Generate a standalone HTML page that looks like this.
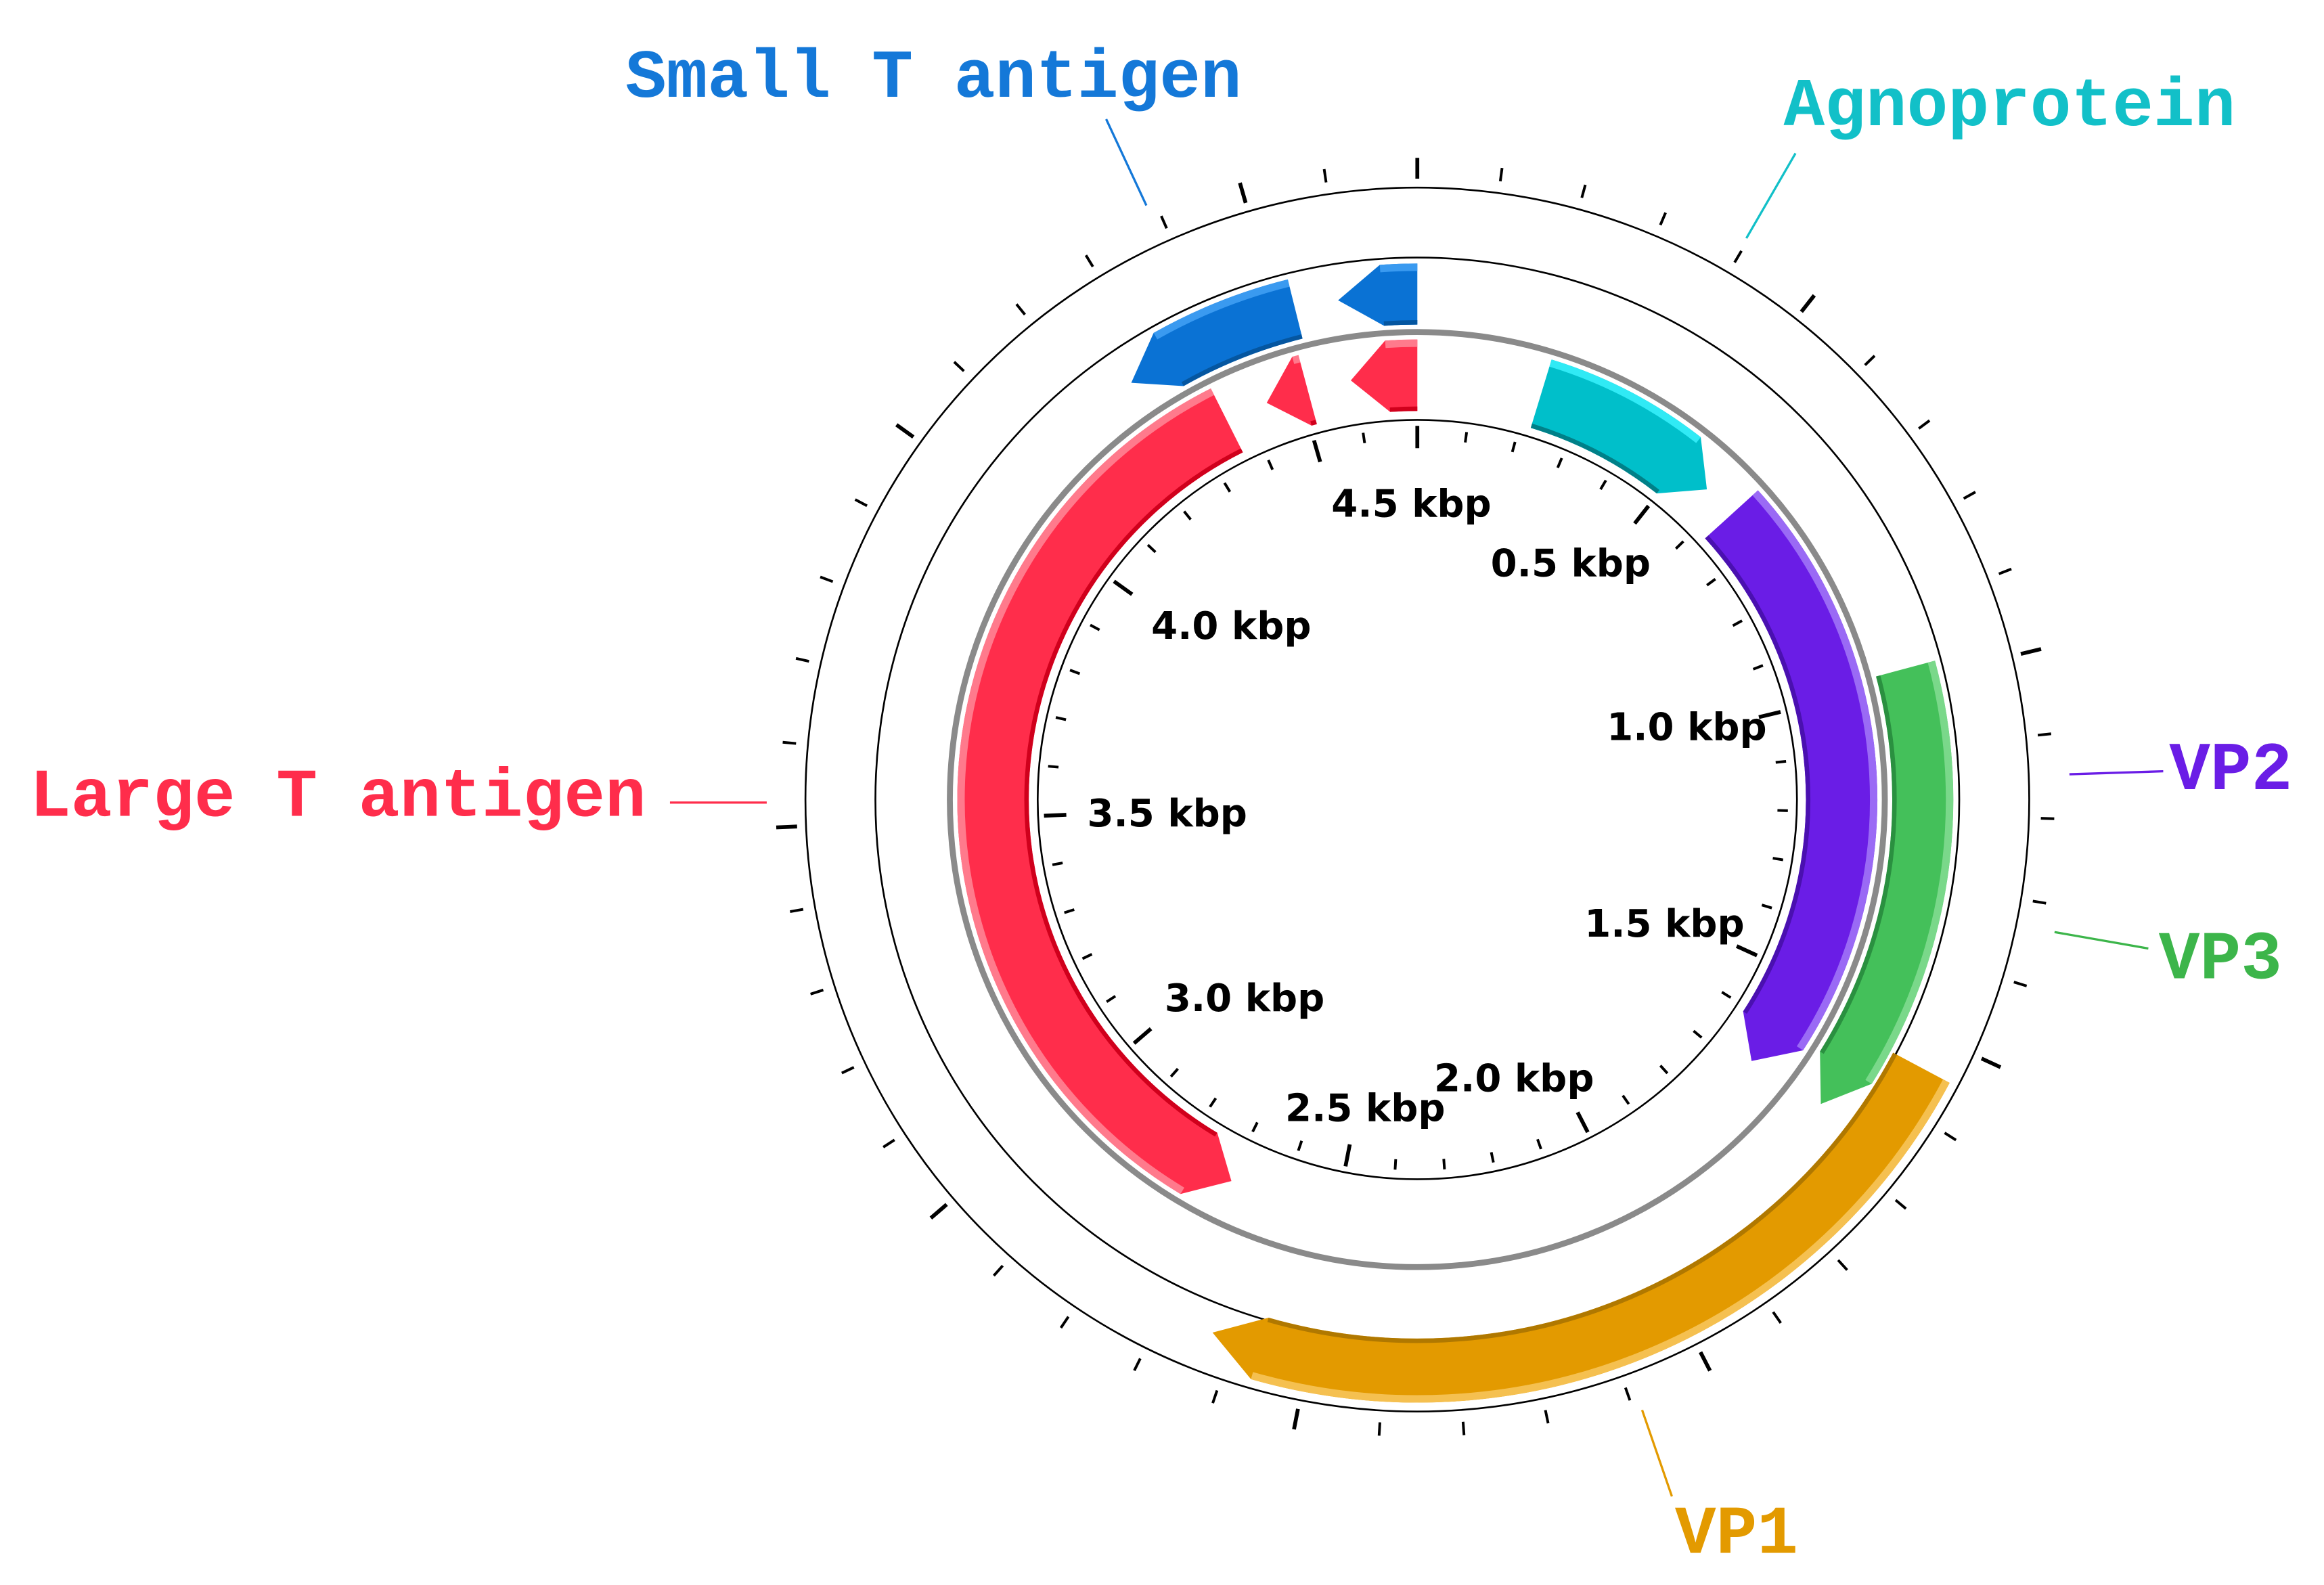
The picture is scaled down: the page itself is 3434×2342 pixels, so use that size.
<!DOCTYPE html>
<html><head><meta charset="utf-8"><style>
html,body{margin:0;padding:0;background:#fff;}
svg{display:block;}
.mono{font-family:"Liberation Mono",monospace;font-weight:bold;font-size:46px;}
.kbp{font-family:"DejaVu Sans","Liberation Sans",sans-serif;font-weight:bold;font-size:25.5px;fill:#000;text-anchor:middle;}
</style></head><body>
<svg id="map" width="3434" height="2342" viewBox="0 0 1561 1064.5" preserveAspectRatio="none" xmlns="http://www.w3.org/2000/svg">
<g id="rings">
<circle cx="952" cy="537" r="411" fill="none" stroke="#000" stroke-width="1.2"/>
<circle cx="952" cy="537" r="364" fill="none" stroke="#000" stroke-width="1.2"/>
<circle cx="952" cy="537" r="314" fill="none" stroke="#8a8a8a" stroke-width="4"/>
<circle cx="952" cy="537" r="255" fill="none" stroke="#000" stroke-width="1.2"/>
</g>
<g id="ticks"></g>
<g id="features"></g>
<g>
<text class="kbp" x="948" y="347">4.5 kbp</text>
<text class="kbp" x="1055" y="387">0.5 kbp</text>
<text class="kbp" x="1133" y="497">1.0 kbp</text>
<text class="kbp" x="1118" y="629">1.5 kbp</text>
<text class="kbp" x="1017" y="733">2.0 kbp</text>
<text class="kbp" x="917" y="753">2.5 kbp</text>
<text class="kbp" x="836" y="679">3.0 kbp</text>
<text class="kbp" x="784" y="555">3.5 kbp</text>
<text class="kbp" x="827" y="429">4.0 kbp</text>
</g>
<g>
<text class="mono" x="420" y="65" fill="#1478d8">Small T antigen</text>
<line x1="743" y1="80" x2="770" y2="138" stroke="#1478d8" stroke-width="1.5"/>
<text class="mono" x="1198" y="84" fill="#12c0c8">Agnoprotein</text>
<line x1="1206" y1="103" x2="1173" y2="160" stroke="#12c0c8" stroke-width="1.5"/>
<text class="mono" x="20" y="548" fill="#ff2d4b">Large T antigen</text>
<line x1="450" y1="539" x2="515" y2="539" stroke="#ff2d4b" stroke-width="1.5"/>
<text class="mono" x="1457" y="530" fill="#6a1de6">VP2</text>
<line x1="1390" y1="520" x2="1453" y2="518" stroke="#6a1de6" stroke-width="1.5"/>
<text class="mono" x="1450" y="657" fill="#3cb54a">VP3</text>
<line x1="1380" y1="626" x2="1443" y2="637" stroke="#3cb54a" stroke-width="1.5"/>
<text class="mono" x="1125" y="1043" fill="#e39a00">VP1</text>
<line x1="1103" y1="947" x2="1123" y2="1005" stroke="#e39a00" stroke-width="1.5"/>
</g>
</svg>
<script>
const genomeLength = 4710;
const tickStep = 100;
const featureNames = ["small-t-1","small-t-2","large-t-1","large-t-2","large-t-3","agnoprotein","vp2","vp3","vp1"];
const featureStarts = [4592, 4259, 4592, 4438, 2695, 222, 625, 981, 1544];
const featureEnds   = [4710, 4527, 4710, 4514, 4361, 563, 1675, 1662, 2630];
const featureStrands = [-1, -1, -1, -1, -1, 1, 1, 1, 1];
const featureRings = [1, 1, 0, 0, 0, 0, 0, 1, 2];
const featureColors = ["#0a72d4","#0a72d4","#ff2d4b","#ff2d4b","#ff2d4b","#00bfca","#6a1de6","#44c05a","#e39a00"];
const featureLight = ["#3a9af0","#3a9af0","#ff7a8c","#ff7a8c","#ff7a8c","#30eaf5","#9a6af5","#7ad88a","#f5c050"];
const featureDark = ["#0556a0","#0556a0","#d0001c","#d0001c","#d0001c","#008088","#4a10b0","#2a9040","#b07800"];

const NS = "http://www.w3.org/2000/svg";
const cx = 952, cy = 537;
const ringIn = [261, 319, 362], ringOut = [309, 360, 405];
function ang(bp){ return bp / genomeLength * 2 * Math.PI; }
function pt(a, r){ return [cx + r*Math.sin(a), cy - r*Math.cos(a)]; }
function f(p){ return p[0].toFixed(2)+","+p[1].toFixed(2); }
function arc(r, a1, a2, sweep){
  const large = Math.abs(a2-a1) > Math.PI ? 1 : 0;
  return "A"+r+","+r+" 0 "+large+","+sweep+" "+f(pt(a2,r));
}

const tg = document.getElementById("ticks");
for (let bp = 0; bp < genomeLength - 50; bp += tickStep) {
  const a = ang(bp);
  const major = bp % 500 === 0;
  const o1 = pt(a, major ? 417 : 419), o2 = pt(a, major ? 431 : 428);
  const l = document.createElementNS(NS, "line");
  
  
  l.setAttribute("x1", o1[0]); l.setAttribute("y1", o1[1]);
  l.setAttribute("x2", o2[0]); l.setAttribute("y2", o2[1]);
  l.setAttribute("stroke", "#000"); l.setAttribute("stroke-width", major ? 2.6 : 1.8);
  tg.appendChild(l);
  const i1 = pt(a, major ? 236 : 242), i2 = pt(a, major ? 251 : 249);
  const m = document.createElementNS(NS, "line");
  
  
  m.setAttribute("x1", i1[0]); m.setAttribute("y1", i1[1]);
  m.setAttribute("x2", i2[0]); m.setAttribute("y2", i2[1]);
  m.setAttribute("stroke", "#000"); m.setAttribute("stroke-width", major ? 2.6 : 1.8);
  tg.appendChild(m);
}

const fg = document.getElementById("features");
const headDeg = 5 * Math.PI / 180;
for (let i = 0; i < featureNames.length; i++) {
  const a1 = ang(featureStarts[i]), a2 = ang(featureEnds[i]);
  const ri = ringIn[featureRings[i]], ro = ringOut[featureRings[i]], rm = (ri+ro)/2;
  const h = Math.min(headDeg, a2 - a1);
  let d, b1, b2;
  if (featureStrands[i] > 0) {
    const ah = a2 - h; b1 = a1; b2 = ah;
    d = "M"+f(pt(a1,ro))+arc(ro,a1,ah,1)+"L"+f(pt(a2,rm))+"L"+f(pt(ah,ri))+arc(ri,ah,a1,0)+"Z";
  } else {
    const ah = a1 + h; b1 = ah; b2 = a2;
    d = "M"+f(pt(ah,ro))+arc(ro,ah,a2,1)+"L"+f(pt(a2,ri))+arc(ri,a2,ah,0)+"L"+f(pt(a1,rm))+"Z";
  }
  const p = document.createElementNS(NS, "path");
  
  
  p.setAttribute("d", d); p.setAttribute("fill", featureColors[i]);
  fg.appendChild(p);
  if (b2 - b1 > 0.01) {
    const hl = document.createElementNS(NS, "path");
    
    
    hl.setAttribute("d", "M"+f(pt(b1,ro-2.5))+arc(ro-2.5,b1,b2,1));
    hl.setAttribute("fill","none"); hl.setAttribute("stroke", featureLight[i]); hl.setAttribute("stroke-width", 5);
    fg.appendChild(hl);
    const sh = document.createElementNS(NS, "path");
    
    
    sh.setAttribute("d", "M"+f(pt(b1,ri+1.5))+arc(ri+1.5,b1,b2,1));
    sh.setAttribute("fill","none"); sh.setAttribute("stroke", featureDark[i]); sh.setAttribute("stroke-width", 3);
    fg.appendChild(sh);
  }
}
</script>
</body></html>
